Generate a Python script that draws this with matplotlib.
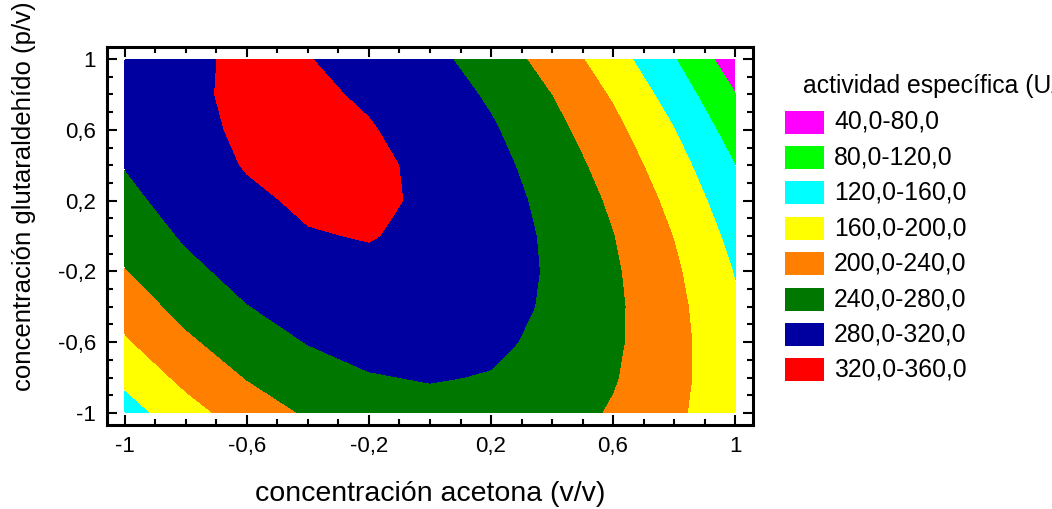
import numpy as np
import matplotlib.pyplot as plt
from matplotlib.patches import Rectangle
from matplotlib.ticker import MultipleLocator

plt.rcParams['font.family'] = ['Liberation Sans', 'DejaVu Sans']

# Rejilla (valores codificados de -1 a 1)
acetona = [-1.0, -0.8, -0.6, -0.4, -0.2, 0.0, 0.2, 0.4, 0.6, 0.8, 1.0]
glutaraldehido = [-1.0, -0.8, -0.6, -0.4, -0.2, 0.0, 0.2, 0.4, 0.6, 0.8, 1.0]

# actividad específica (filas = glutaraldehído, columnas = acetona)
actividad = [
    [141.9, 184.9, 219.0, 244.2, 260.4, 267.8, 266.2, 255.8, 236.4, 208.1, 170.9],
    [170.0, 210.2, 241.6, 264.1, 277.6, 282.3, 278.0, 264.8, 242.7, 211.7, 171.8],
    [195.3, 232.9, 261.5, 281.3, 292.1, 294.0, 287.0, 271.1, 246.3, 212.5, 169.9],
    [217.9, 252.8, 278.7, 295.7, 303.8, 303.0, 293.3, 274.7, 247.2, 210.7, 165.3],
    [237.9, 270.0, 293.2, 307.5, 312.9, 309.4, 296.9, 275.6, 245.3, 206.2, 158.1],
    [255.1, 284.5, 305.0, 318.0, 321.5, 313.0, 297.8, 273.8, 240.8, 198.9, 148.1],
    [269.6, 296.3, 314.1, 325.0, 325.0, 316.0, 296.1, 269.3, 233.6, 189.0, 135.4],
    [281.5, 305.4, 322.0, 327.0, 323.8, 316.0, 291.6, 262.1, 223.6, 176.3, 120.1],
    [290.6, 313.0, 324.2, 327.6, 322.1, 307.7, 284.4, 252.1, 211.0, 160.9, 102.0],
    [297.0, 315.5, 325.1, 325.8, 316.0, 300.5, 274.5, 239.5, 195.6, 142.9, 81.2],
    [300.7, 316.5, 323.4, 320.8, 310.4, 290.6, 261.8, 224.2, 177.6, 122.1, 57.7],
]

niveles = [40, 80, 120, 160, 200, 240, 280, 320, 360]
colores = ['#FF00FF', '#00FF00', '#00FFFF', '#FFFF00', '#FF8000',
           '#007800', '#0000A0', '#FF0000']
etiquetas = ['40,0-80,0', '80,0-120,0', '120,0-160,0', '160,0-200,0',
             '200,0-240,0', '240,0-280,0', '280,0-320,0', '320,0-360,0']

ticks = [-1, -0.6, -0.2, 0.2, 0.6, 1]
ticklabels = ['-1', '-0,6', '-0,2', '0,2', '0,6', '1']

W, H = 1052, 509
fig = plt.figure(figsize=(W / 100, H / 100), dpi=100)
ax = fig.add_axes([107 / W, 1 - 425 / H, 646 / W, 378 / H])

X, Y = np.meshgrid(acetona, glutaraldehido)
ax.contourf(X, Y, np.array(actividad), levels=niveles, colors=colores)

ax.set_xlim(-1.059, 1.059)
ax.set_ylim(-1.068, 1.068)

ax.set_xticks(ticks)
ax.set_xticklabels(ticklabels)
ax.set_yticks(ticks)
ax.set_yticklabels(ticklabels)
ax.xaxis.set_minor_locator(MultipleLocator(0.1))
ax.yaxis.set_minor_locator(MultipleLocator(0.1))
ax.tick_params(which='both', direction='in', top=True, right=True, width=1.5)
ax.tick_params(which='major', length=7, labelsize=16, pad=8)
ax.tick_params(which='minor', length=4)
for s in ax.spines.values():
    s.set_linewidth(2.2)

ax.set_xlabel('concentración acetona (v/v)', fontsize=20.5)
ax.xaxis.label.set_va('center')
ax.xaxis.set_label_coords(0.5, -0.183)
ax.set_ylabel('concentración glutaraldehído (p/v)', fontsize=18.5)
ax.yaxis.label.set_va('center')
ax.yaxis.set_label_coords(-0.128, 0.606)

# leyenda
fig.text(803 / W, 1 - 93 / H, 'actividad específica (U/mg)', fontsize=17.8,
         va='baseline', ha='left')
for i, (col, lab) in enumerate(zip(colores, etiquetas)):
    yc = 122 + i * 35.4
    fig.add_artist(Rectangle((785 / W, 1 - (yc + 11.5) / H), 39 / W, 23 / H,
                             transform=fig.transFigure, facecolor=col,
                             edgecolor='none'))
    fig.text(834 / W, 1 - yc / H, lab, fontsize=17.8, va='center', ha='left')

fig.savefig('out.png', dpi=100)
